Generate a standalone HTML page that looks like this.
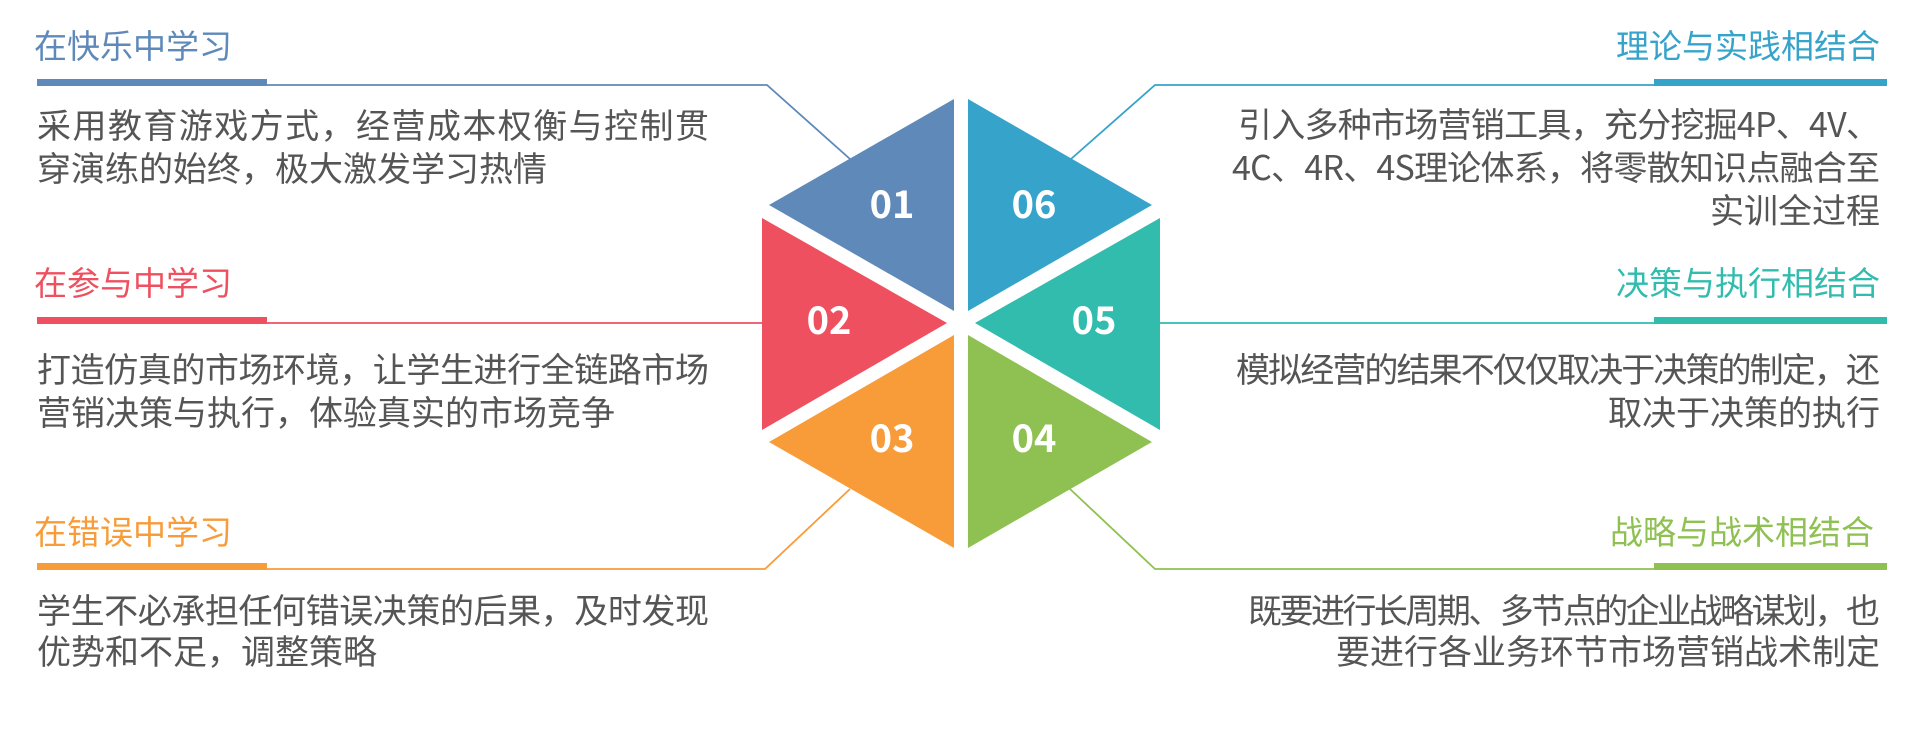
<!DOCTYPE html>
<html><head><meta charset="utf-8"><style>
html,body{margin:0;padding:0;background:#fff;width:1913px;height:730px;overflow:hidden}
svg text{font-family:"Noto Sans CJK SC","Liberation Sans",sans-serif}
.b{font-size:34px;fill:#555}
.h{font-size:33px}
.n{font-size:38px;font-weight:bold;fill:#fff}
</style></head><body>
<svg width="1913" height="730" viewBox="0 0 1913 730" xmlns="http://www.w3.org/2000/svg">
<polygon points="769,205 954,99 954,311" fill="#5e89b9"/>
<polygon points="968,99 968,311 1152,205" fill="#36a3cb"/>
<polygon points="762,218 762,430 947,323" fill="#ef5060"/>
<polygon points="1160,218 1160,430 975,323" fill="#31bcae"/>
<polygon points="769,442 954,335 954,548" fill="#f79c39"/>
<polygon points="968,335 968,548 1152,442" fill="#8fc152"/>
<text class="n" x="892" y="218" text-anchor="middle">01</text>
<text class="n" x="1034" y="218" text-anchor="middle">06</text>
<text class="n" x="829" y="334" text-anchor="middle">02</text>
<text class="n" x="1094" y="334" text-anchor="middle">05</text>
<text class="n" x="892" y="452" text-anchor="middle">03</text>
<text class="n" x="1034" y="452" text-anchor="middle">04</text>
<g fill="none" stroke-width="1.8">
<polyline points="267,85 767,85 850,159" stroke="#5e89b9"/>
<polyline points="1071,159 1155,85 1654,85" stroke="#36a3cb"/>
<polyline points="267,323 762,323" stroke="#ef5060"/>
<polyline points="1160,323 1654,323" stroke="#31bcae"/>
<polyline points="850,489 765,569 267,569" stroke="#f79c39"/>
<polyline points="1070,489 1155,569 1654,569" stroke="#8fc152"/>
</g>
<rect x="37" y="79" width="230" height="7" fill="#5e89b9"/>
<rect x="1654" y="79" width="233" height="7" fill="#36a3cb"/>
<rect x="37" y="317" width="230" height="7" fill="#ef5060"/>
<rect x="1654" y="317" width="233" height="7" fill="#31bcae"/>
<rect x="37" y="563" width="230" height="7" fill="#f79c39"/>
<rect x="1654" y="563" width="233" height="7" fill="#8fc152"/>
<text class="h" x="34" y="58" fill="#5e89b9">在快乐中学习</text>
<text class="b" x="37" y="138" textLength="672" lengthAdjust="spacing">采用教育游戏方式，经营成本权衡与控制贯</text>
<text class="b" x="37" y="181">穿演练的始终，极大激发学习热情</text>
<text class="h" x="34" y="295" fill="#ef5060">在参与中学习</text>
<text class="b" x="37" y="382" textLength="672" lengthAdjust="spacing">打造仿真的市场环境，让学生进行全链路市场</text>
<text class="b" x="37" y="425">营销决策与执行，体验真实的市场竞争</text>
<text class="h" x="34" y="544" fill="#f79c39">在错误中学习</text>
<text class="b" x="37" y="623" textLength="672" lengthAdjust="spacing">学生不必承担任何错误决策的后果，及时发现</text>
<text class="b" x="37" y="664">优势和不足，调整策略</text>
<text class="h" x="1880" y="58" fill="#36a3cb" text-anchor="end">理论与实践相结合</text>
<text class="b" x="1238" y="137" textLength="642" lengthAdjust="spacing">引入多种市场营销工具，充分挖掘4P、4V、</text>
<text class="b" x="1232" y="180" textLength="648" lengthAdjust="spacing">4C、4R、4S理论体系，将零散知识点融合至</text>
<text class="b" x="1880" y="223" text-anchor="end">实训全过程</text>
<text class="h" x="1880" y="295" fill="#31bcae" text-anchor="end">决策与执行相结合</text>
<text class="b" x="1236" y="382" textLength="644" lengthAdjust="spacing">模拟经营的结果不仅仅取决于决策的制定，还</text>
<text class="b" x="1880" y="425" text-anchor="end">取决于决策的执行</text>
<text class="h" x="1874" y="544" fill="#8fc152" text-anchor="end">战略与战术相结合</text>
<text class="b" x="1248" y="623" textLength="632" lengthAdjust="spacing">既要进行长周期、多节点的企业战略谋划，也</text>
<text class="b" x="1880" y="664" text-anchor="end">要进行各业务环节市场营销战术制定</text>
</svg>
</body></html>
